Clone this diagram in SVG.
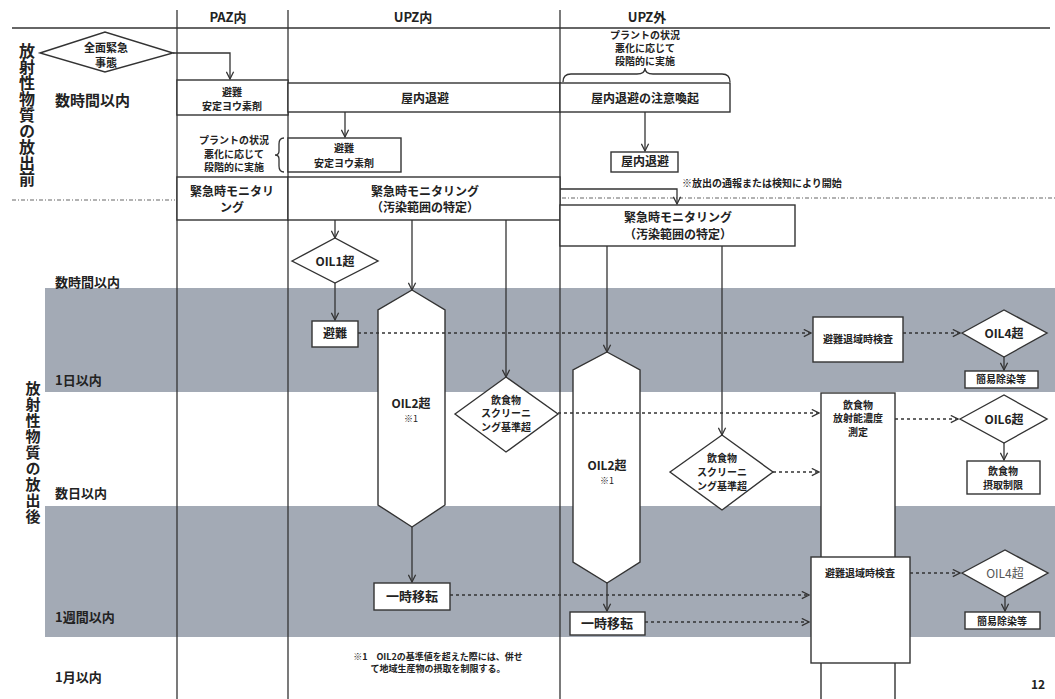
<svg xmlns="http://www.w3.org/2000/svg" width="1055" height="699" viewBox="0 0 1055 699">
<defs>
<style>
text{font-family:"Noto Sans CJK JP","Noto Sans",sans-serif;font-weight:700;fill:#222;text-anchor:middle}
.ln{stroke:#333;stroke-width:1.3;fill:none}
.bx{fill:#fff;stroke:#333;stroke-width:1.4}
.ar{stroke:#333;stroke-width:1.3;fill:none;marker-end:url(#arr)}
.ds{stroke:#333;stroke-width:1.6;fill:none;stroke-dasharray:3 3;marker-end:url(#arr)}
.dot{stroke:#666;stroke-width:1.2;fill:none;stroke-dasharray:4 2 1 2}
.vt{writing-mode:vertical-rl}
.s9{font-size:9px}.s10{font-size:10px}.s11{font-size:11px}.s12{font-size:12px}.s13{font-size:13px}
.lt{text-anchor:start}
</style>
<marker id="arr" viewBox="0 0 10 10" refX="9" refY="5" markerWidth="9" markerHeight="9" markerUnits="userSpaceOnUse" orient="auto">
<path d="M1,1 L9,5 L1,9" fill="none" stroke="#333" stroke-width="1.4"/>
</marker>
</defs>
<rect width="1055" height="699" fill="#fff"/>
<g id="bands">
<rect x="45" y="288" width="1010" height="104" fill="#a3aab5"/>
<rect x="45" y="506" width="1010" height="131" fill="#a3aab5"/>
</g>
<g id="grid">
<line class="ln" x1="12" y1="28" x2="1050" y2="28"/>
<line class="ln" x1="177" y1="10" x2="177" y2="699"/>
<line class="ln" x1="288" y1="10" x2="288" y2="699"/>
<line class="ln" x1="560" y1="10" x2="560" y2="699"/>
<line class="dot" x1="12" y1="200" x2="175" y2="200"/>
<line class="dot" x1="562" y1="198" x2="1055" y2="198"/>
<text class="s13" x="228" y="22">PAZ内</text>
<text class="s13" x="413" y="22">UPZ内</text>
<text class="s13" x="647" y="22">UPZ外</text>
</g>
<g id="labels">
<text class="vt" style="font-size:16px" x="27" y="115">放射性物質の放出前</text>
<text class="vt" style="font-size:15px;letter-spacing:1px" x="33" y="453">放射性物質の放出後</text>
<text class="lt" style="font-size:15px" x="55" y="106">数時間以内</text>
<text class="lt s13" x="55" y="287">数時間以内</text>
<text class="lt s13" x="55" y="385">1日以内</text>
<text class="lt s13" x="55" y="498">数日以内</text>
<text class="lt s13" x="55" y="622">1週間以内</text>
<text class="lt s13" x="55" y="682">1月以内</text>
</g>
<g id="n-zenmen">
<polygon class="bx" points="40,53 105,32 173,53 105,72"/>
<text class="s11" x="106" y="52">全面緊急</text>
<text class="s11" x="106" y="67">事態</text>
</g>
<g id="n-paz-hinan">
<rect class="bx" x="177" y="80" width="111" height="35"/>
<text class="s10" x="232" y="96">避難</text>
<text class="s10" x="232" y="110">安定ヨウ素剤</text>
</g>
<g id="n-upz-okunai">
<rect class="bx" x="288" y="83" width="272" height="29"/>
<text class="s12" x="425" y="103">屋内退避</text>
</g>
<g id="n-upzout-chui">
<rect class="bx" x="560" y="83" width="170" height="29"/>
<text class="s12" x="645" y="103">屋内退避の注意喚起</text>
</g>
<g id="n-paz-plant">
<text class="s10" x="234" y="144">プラントの状況</text>
<text class="s10" x="234" y="158">悪化に応じて</text>
<text class="s10" x="234" y="171">段階的に実施</text>
<path class="ln" d="M284,138 Q279,138 279,144 L279,151 Q279,155 275,155 Q279,155 279,159 L279,166 Q279,172 284,172"/>
</g>
<g id="n-upz-hinan">
<rect class="bx" x="288" y="138" width="113" height="34"/>
<text class="s10" x="344" y="152">避難</text>
<text class="s10" x="344" y="167">安定ヨウ素剤</text>
</g>
<g id="n-upzout-plant">
<text class="s10" x="645" y="39">プラントの状況</text>
<text class="s10" x="645" y="52">悪化に応じて</text>
<text class="s10" x="645" y="65">段階的に実施</text>
<path class="ln" d="M563,82 Q563,74 571,74 L637,74 Q645,74 645,68 Q645,74 653,74 L722,74 Q730,74 730,82"/>
</g>
<g id="n-upzout-okunai">
<rect class="bx" x="611" y="152" width="67" height="20"/>
<text class="s12" x="645" y="166">屋内退避</text>
</g>
<text class="lt s10" x="682" y="187">※放出の通報または検知により開始</text>
<g id="n-paz-mon">
<rect class="bx" x="177" y="177" width="111" height="43"/>
<text class="s12" x="232" y="196">緊急時モニタリ</text>
<text class="s12" x="232" y="212">ング</text>
</g>
<g id="n-upz-mon">
<rect class="bx" x="288" y="177" width="272" height="43"/>
<text class="s12" x="425" y="196">緊急時モニタリング</text>
<text class="s12" x="425" y="212">（汚染範囲の特定）</text>
</g>
<g id="n-upzout-mon">
<rect class="bx" x="560" y="205" width="235" height="41"/>
<text class="s12" x="678" y="222">緊急時モニタリング</text>
<text class="s12" x="678" y="239">（汚染範囲の特定）</text>
</g>
<g id="n-oil1">
<polygon class="bx" points="292,261 335,238 378,261 335,283"/>
<text class="s12" x="335" y="266">OIL1超</text>
</g>
<g id="n-hinan">
<rect class="bx" x="312" y="321" width="46" height="26"/>
<text class="s12" x="335" y="338">避難</text>
</g>
<g id="n-oil2-upz">
<polygon class="bx" points="412,290 445,310 445,505 412,527 378,505 378,310"/>
<text class="s12" x="411" y="408">OIL2超</text>
<text class="s9" x="411" y="422" style="font-weight:400">※1</text>
</g>
<g id="n-screen-upz">
<polygon class="bx" points="455,414 506,377 558,414 506,452"/>
<text class="s10" x="506" y="404">飲食物</text>
<text class="s10" x="506" y="417">スクリーニ</text>
<text class="s10" x="506" y="431">ング基準超</text>
</g>
<g id="n-ichiji-upz">
<rect class="bx" x="374" y="583" width="76" height="27"/>
<text class="s13" x="412" y="601">一時移転</text>
</g>
<g id="n-oil2-out">
<polygon class="bx" points="607,352 640,370 640,562 607,583 573,562 573,370"/>
<text class="s12" x="607" y="470">OIL2超</text>
<text class="s9" x="607" y="484" style="font-weight:400">※1</text>
</g>
<g id="n-screen-out">
<polygon class="bx" points="670,472 722,435 773,472 722,510"/>
<text class="s10" x="722" y="462">飲食物</text>
<text class="s10" x="722" y="476">スクリーニ</text>
<text class="s10" x="722" y="490">ング基準超</text>
</g>
<g id="n-ichiji-out">
<rect class="bx" x="570" y="612" width="75" height="23"/>
<text class="s13" x="607" y="628">一時移転</text>
</g>
<g id="n-kensa1">
<rect class="bx" x="813" y="317" width="90" height="45"/>
<text class="s10" x="858" y="343">避難退域時検査</text>
</g>
<g id="n-oil4a">
<polygon class="bx" points="962,333 1004,310 1047,333 1004,357"/>
<text class="s12" x="1004" y="338">OIL4超</text>
</g>
<g id="n-josen1">
<rect class="bx" x="965" y="371" width="73" height="17"/>
<text class="s10" x="1001" y="383">簡易除染等</text>
</g>
<g id="n-sokutei">
<rect class="bx" x="821" y="393" width="74" height="320"/>
<text class="s10" x="858" y="409">飲食物</text>
<text class="s10" x="858" y="422">放射能濃度</text>
<text class="s10" x="858" y="436">測定</text>
</g>
<g id="n-oil6">
<polygon class="bx" points="960,419 1004,395 1047,419 1004,443"/>
<text class="s12" x="1004" y="424">OIL6超</text>
</g>
<g id="n-sesshu">
<rect class="bx" x="967" y="461" width="73" height="33"/>
<text class="s10" x="1003" y="475">飲食物</text>
<text class="s10" x="1003" y="489">摂取制限</text>
</g>
<g id="n-kensa2">
<rect class="bx" x="811" y="557" width="99" height="106"/>
<text class="s10" x="860" y="577">避難退域時検査</text>
</g>
<g id="n-oil4b">
<polygon class="bx" points="962,573 1005,550 1048,573 1005,597"/>
<text class="s12" x="1005" y="578" style="font-weight:400;fill:#555">OIL4超</text>
</g>
<g id="n-josen2">
<rect class="bx" x="965" y="612" width="75" height="17"/>
<text class="s10" x="1002" y="625">簡易除染等</text>
</g>
<g id="note">
<text class="s9" x="438" y="660">※1　OIL2の基準値を超えた際には、併せ</text>
<text class="s9" x="438" y="672">て地域生産物の摂取を制限する。</text>
<text class="s12" x="1038" y="689">12</text>
</g>
<g id="connectors">
<polyline class="ar" points="173,53 230,53 230,79"/>
<line class="ar" x1="345" y1="112" x2="345" y2="137"/>
<line class="ar" x1="645" y1="112" x2="645" y2="151"/>
<polyline class="ar" points="560,189 677,189 677,204"/>
<line class="ar" x1="335" y1="220" x2="335" y2="238"/>
<line class="ar" x1="412" y1="220" x2="412" y2="290"/>
<line class="ar" x1="506" y1="220" x2="506" y2="377"/>
<line class="ar" x1="607" y1="246" x2="607" y2="352"/>
<line class="ar" x1="722" y1="246" x2="722" y2="435"/>
<line class="ar" x1="335" y1="283" x2="335" y2="320"/>
<line class="ar" x1="412" y1="527" x2="412" y2="582"/>
<line class="ar" x1="607" y1="583" x2="607" y2="611"/>
<line class="ar" x1="1004" y1="357" x2="1004" y2="370"/>
<line class="ar" x1="1004" y1="443" x2="1004" y2="460"/>
<line class="ar" x1="1005" y1="597" x2="1005" y2="611"/>
<line class="ds" x1="358" y1="333" x2="811" y2="333"/>
<line class="ds" x1="903" y1="333" x2="960" y2="333"/>
<line class="ds" x1="558" y1="413" x2="819" y2="413"/>
<line class="ds" x1="895" y1="419" x2="958" y2="419"/>
<line class="ds" x1="773" y1="472" x2="819" y2="472"/>
<line class="ds" x1="910" y1="573" x2="960" y2="573"/>
<line class="ds" x1="450" y1="595" x2="809" y2="595"/>
<line class="ds" x1="645" y1="622" x2="809" y2="622"/>
</g>
</svg>
